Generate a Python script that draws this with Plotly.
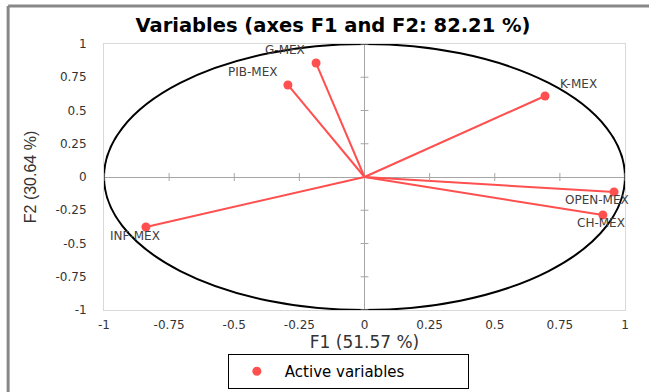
import plotly.graph_objects as go

# ---- data ----
variables = ["G-MEX", "PIB-MEX", "K-MEX", "OPEN-MEX", "CH-MEX", "INF-MEX"]
f1 = [-0.186, -0.294, 0.693, 0.958, 0.915, -0.839]
f2 = [0.857, 0.692, 0.609, -0.113, -0.286, -0.376]
tick_vals = [-1, -0.75, -0.5, -0.25, 0, 0.25, 0.5, 0.75, 1]
tick_text = ["-1", "-0.75", "-0.5", "-0.25", "0", "0.25", "0.5", "0.75", "1"]

# label offsets in pixels (style)
label_dx = [-31, -35, 33, -17, -2, -11]
label_dy = [13, 13, 12, -8, -8, -9]

RED = "#ff4f4f"

fig = go.Figure()

# vectors from origin
lx, ly = [], []
for x, y in zip(f1, f2):
    lx += [0, x, None]
    ly += [0, y, None]
fig.add_trace(go.Scatter(x=lx, y=ly, mode="lines", line=dict(color=RED, width=2),
                         showlegend=False, hoverinfo="skip"))
fig.add_trace(go.Scatter(x=f1, y=f2, mode="markers", name="Active variables",
                         marker=dict(color=RED, size=9), text=variables))

shapes = [
    dict(type="circle", xref="x", yref="y", x0=-1, y0=-1, x1=1, y1=1,
         line=dict(color="black", width=2), layer="above"),
    # outer frame (left and top)
    dict(type="line", xref="paper", yref="paper", x0=-0.184, x1=-0.184, y0=-0.35, y1=1.143,
         line=dict(color="#888888", width=3)),
    dict(type="line", xref="paper", yref="paper", x0=-0.184, x1=1.1, y0=1.143, y1=1.143,
         line=dict(color="#888888", width=3)),
]
# small ticks on the central axes
for t in tick_vals:
    if t == 0:
        continue
    shapes.append(dict(type="line", xref="x", yref="y", x0=-0.015, x1=0.015, y0=t, y1=t,
                       line=dict(color="#a6a6a6", width=1)))
    shapes.append(dict(type="line", xref="x", yref="y", x0=t, x1=t, y0=-0.03, y1=0.03,
                       line=dict(color="#a6a6a6", width=1)))

annotations = []
for name, x, y, dx, dy in zip(variables, f1, f2, label_dx, label_dy):
    annotations.append(dict(x=x, y=y, xref="x", yref="y", text=name, showarrow=False,
                            xshift=dx, yshift=dy, xanchor="center", yanchor="middle",
                            font=dict(family="DejaVu Sans", size=12, color="#404040")))

axis_common = dict(range=[-1, 1], tickvals=tick_vals, ticktext=tick_text, showgrid=False,
                   zeroline=True, zerolinecolor="#a6a6a6", zerolinewidth=1,
                   showline=True, mirror=True, linecolor="#d9d9d9", linewidth=1,
                   ticks="", tickfont=dict(family="DejaVu Sans", size=12, color="#333333"))

fig.update_layout(
    width=649, height=392,
    margin=dict(l=104, r=24, t=44, b=82, autoexpand=False),
    paper_bgcolor="white", plot_bgcolor="white",
    title=dict(text="<b>Variables (axes F1 and F2: 82.21 %)</b>", x=0.4395, xref="paper",
               xanchor="center", y=1 - 25 / 392, yanchor="middle",
               font=dict(family="DejaVu Sans", size=19.5, color="black")),
    xaxis=dict(**axis_common, ticklabelstandoff=4,
               title=dict(text="F1 (51.57 %)", standoff=2,
                          font=dict(family="DejaVu Sans", size=17, color="#333333"))),
    yaxis=dict(**axis_common, ticklabelstandoff=14,
               title=dict(text="F2 (30.64 %)", standoff=14,
                          font=dict(family="Liberation Sans", size=16, color="#333333"))),
    shapes=shapes,
    annotations=annotations,
    showlegend=True,
    legend=dict(orientation="h", x=0.469, xanchor="center", y=-0.297, yanchor="bottom",
                bordercolor="black", borderwidth=1,
                font=dict(family="DejaVu Sans", size=15, color="black"),
                itemwidth=46, entrywidth=178),
)

fig.write_html("out.html")
